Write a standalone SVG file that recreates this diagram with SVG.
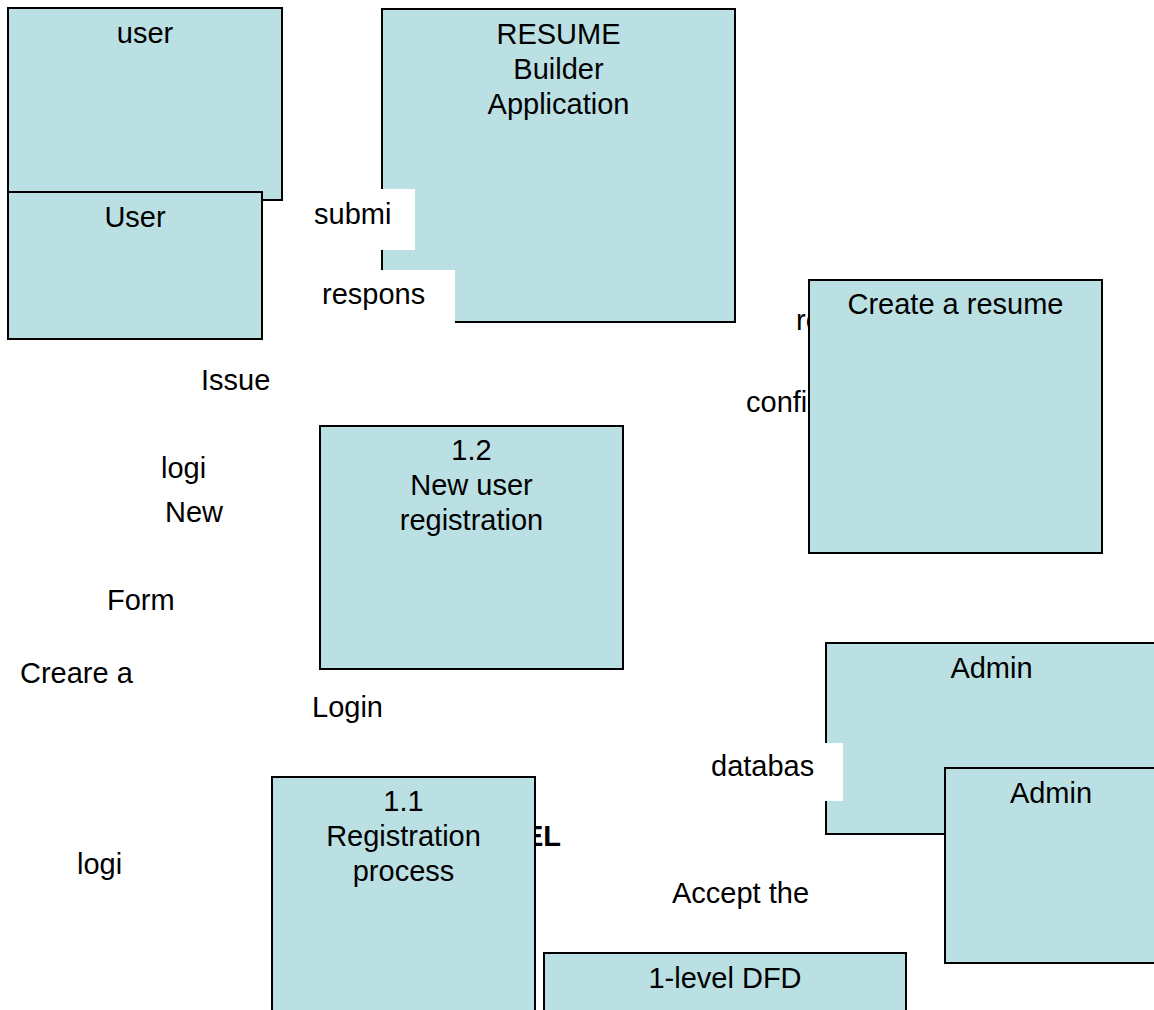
<svg xmlns="http://www.w3.org/2000/svg" width="1154" height="1010" viewBox="0 0 1154 1010">
<style>
.box{fill:#BBE0E3;stroke:#000;stroke-width:2}
.mask{fill:#fff;stroke:none}
text{font-family:"Liberation Sans",Arial,sans-serif;font-size:29px;fill:#000}
.c{text-anchor:middle}
.b{font-weight:bold}
</style>
<rect width="1154" height="1010" fill="#fff"/>
<g id="user-top">
<rect class="box" x="8" y="8" width="274" height="192"/>
<text class="c" x="145" y="43">user</text>
</g>
<g id="user-bottom">
<rect class="box" x="8" y="192" width="254" height="147"/>
<text class="c" x="135" y="227">User</text>
</g>
<g id="resume-app">
<rect class="box" x="382" y="9" width="353" height="313"/>
<text class="c" x="558.5" y="44">RESUME</text>
<text class="c" x="558.5" y="79">Builder</text>
<text class="c" x="558.5" y="114">Application</text>
</g>
<g id="connectors">
<rect class="mask" x="305" y="189" width="110" height="61"/>
<text x="314" y="224">submi</text>
<rect class="mask" x="315" y="270" width="140" height="56"/>
<text x="322" y="304">respons</text>
<text x="796" y="330">re</text>
<text x="746" y="412">confi</text>
<text x="201" y="390">Issue</text>
<text x="161" y="478">logi</text>
<text x="165" y="522">New</text>
<text x="107" y="610">Form</text>
<text x="20" y="683">Creare a</text>
<text x="312" y="717">Login</text>
<text x="77" y="874">logi</text>
<text x="672" y="903">Accept the</text>
<text class="b" x="524" y="846">EL</text>
</g>
<g id="create-resume">
<rect class="box" x="809" y="280" width="293" height="273"/>
<text class="c" x="955.5" y="314">Create a resume</text>
</g>
<g id="new-user-registration">
<rect class="box" x="320" y="426" width="303" height="243"/>
<text class="c" x="471.5" y="460">1.2</text>
<text class="c" x="471.5" y="495">New user</text>
<text class="c" x="471.5" y="530">registration</text>
</g>
<g id="admin-top">
<rect class="box" x="826" y="643" width="332" height="191"/>
<text class="c" x="991.5" y="678">Admin</text>
</g>
<g id="database-label">
<rect class="mask" x="705" y="743" width="138" height="58"/>
<text x="711" y="776">databas</text>
</g>
<g id="admin-bottom">
<rect class="box" x="945" y="768" width="214" height="195"/>
<text class="c" x="1051" y="803">Admin</text>
</g>
<g id="registration-process">
<rect class="box" x="272" y="777" width="263" height="245"/>
<text class="c" x="403.5" y="811">1.1</text>
<text class="c" x="403.5" y="846">Registration</text>
<text class="c" x="403.5" y="881">process</text>
</g>
<g id="level-dfd">
<rect class="box" x="544" y="953" width="362" height="70"/>
<text class="c" x="725" y="988">1-level DFD</text>
</g>
</svg>
